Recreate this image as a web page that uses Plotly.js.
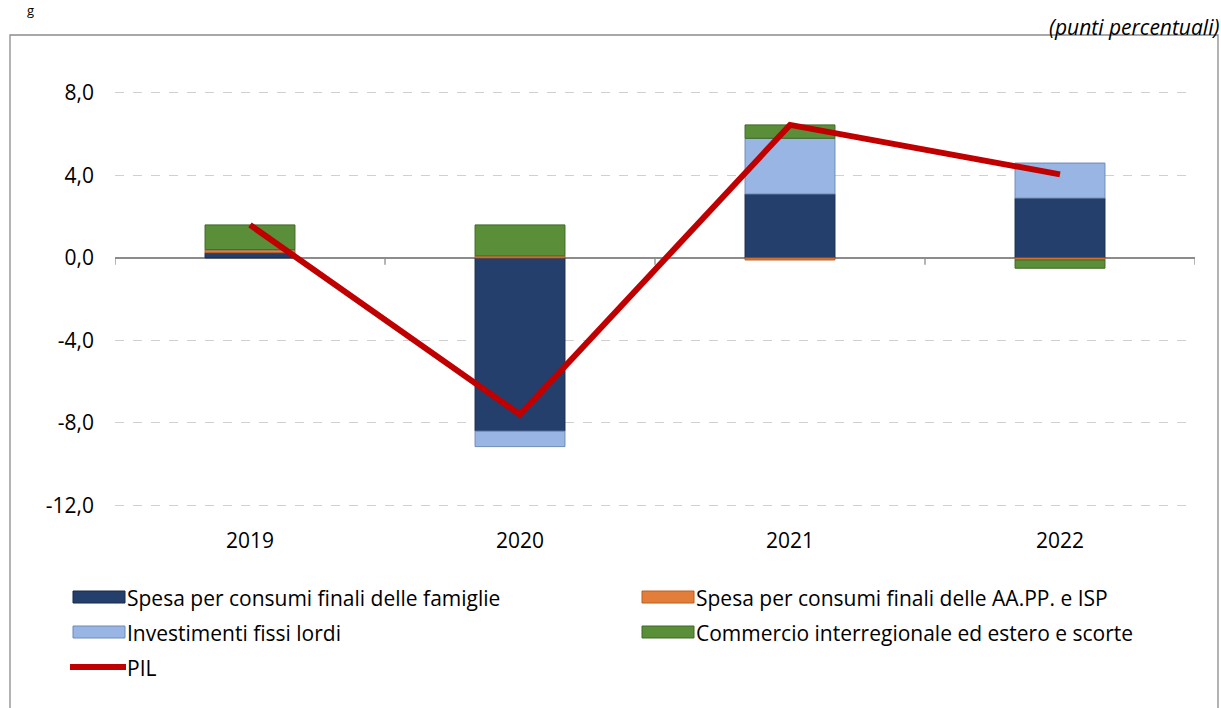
<!DOCTYPE html>
<html><head><meta charset="utf-8">
<script src="https://cdn.plot.ly/plotly-3.0.1.min.js"></script>
<style>html,body{margin:0;padding:0;background:#fff}#chart{width:1221px;height:708px}</style>
</head><body><div id="chart"></div>
<script>
const categories = ['2019', '2020', '2021', '2022'];
const seriesNames = ['Spesa per consumi finali delle famiglie',
  'Spesa per consumi finali delle AA.PP. e ISP',
  'Investimenti fissi lordi',
  'Commercio interregionale ed estero e scorte',
  'PIL'];
const famiglie = [0.25, -8.4, 3.1, 2.9];
const aapp = [0.15, 0.1, -0.1, -0.1];
const investimenti = [0.0, -0.75, 2.7, 1.7];
const commercio = [1.2, 1.5, 0.65, -0.4];
const pil = [1.6, -7.6, 6.45, 4.05];
const yTicks = [-12, -8, -4, 0, 4, 8];
const yTickText = yTicks.map(v => v.toFixed(1).replace('.', ','));

const W = 1221, H = 708;
const M = {l: 115, r: 26, t: 62, b: 182};
const pw = W - M.l - M.r, ph = H - M.t - M.b;
const px = x => (x - M.l) / pw;
const py = y => (H - M.b - y) / ph;

const fontFam = '"Open Sans", "Noto Sans", sans-serif';
const colors = ['#243F6B', '#E27D3A', '#98B5E3', '#5B8E38', '#C00000'];
const lineColors = ['#16294A', '#B85E22', '#6F8BB8', '#3F6826'];
const values = [famiglie, aapp, investimenti, commercio];

const traces = values.map((v, i) => ({type: 'bar', name: seriesNames[i], x: categories, y: v,
  width: 0.333, marker: {color: colors[i], line: {color: lineColors[i], width: 1}}, showlegend: false}));
traces.push({type: 'scatter', mode: 'lines', name: seriesNames[4], x: categories, y: pil,
  line: {color: colors[4], width: 6}, showlegend: false});

const shapes = [];
[-0.5, 0.5, 1.5, 2.5, 3.5].forEach(b => shapes.push({type: 'line', xref: 'x', yref: 'y',
  x0: b, x1: b, y0: 0, y1: -0.33, line: {color: '#8C8C8C', width: 1.3}}));
shapes.push({type: 'rect', xref: 'paper', yref: 'paper', x0: px(10), x1: px(1218),
  y0: py(760), y1: py(35), line: {color: '#8C8C8C', width: 1.3}, layer: 'below'});

// manual legend (two columns as in the original)
const legPos = [[73, 597], [642, 597], [73, 632], [642, 632], [70, 667]];
const annotations = [];
legPos.forEach((p, i) => {
  const [x, y] = p;
  if (i < 4) {
    shapes.push({type: 'rect', xref: 'paper', yref: 'paper', x0: px(x), x1: px(x + 52),
      y0: py(y + 6), y1: py(y - 6), fillcolor: colors[i], line: {color: lineColors[i], width: 1}});
  } else {
    shapes.push({type: 'line', xref: 'paper', yref: 'paper', x0: px(x), x1: px(x + 56),
      y0: py(y), y1: py(y), line: {color: colors[i], width: 6}});
  }
  annotations.push({xref: 'paper', yref: 'paper', x: px(x + (i < 4 ? 52 : 55)), y: py(y + 1), xanchor: 'left',
    yanchor: 'middle', text: seriesNames[i], showarrow: false,
    font: {family: fontFam, size: 21, color: '#000'}});
});
annotations.push({xref: 'paper', yref: 'paper', x: px(1221), y: py(27), xanchor: 'right', yanchor: 'middle',
  text: '<i>(punti percentuali)</i>', showarrow: false, font: {family: fontFam, size: 21, color: '#000'}});
annotations.push({xref: 'paper', yref: 'paper', x: px(26), y: py(0), xanchor: 'left', yanchor: 'top',
  text: 'g', showarrow: false, font: {family: fontFam, size: 13, color: '#000'}, borderpad: 0});

const layout = {
  width: W, height: H,
  margin: {l: M.l, r: M.r, t: M.t, b: M.b, autoexpand: false},
  paper_bgcolor: '#fff', plot_bgcolor: 'rgba(0,0,0,0)',
  barmode: 'relative', bargap: 0.6667,
  font: {family: fontFam, size: 21, color: '#000'},
  showlegend: false,
  xaxis: {type: 'category', range: [-0.5, 3.5], showgrid: false, showline: false,
    ticks: '', tickfont: {family: fontFam, size: 21}, fixedrange: true},
  yaxis: {range: [-13, 9.5], tickvals: yTicks, ticktext: yTickText, showline: false,
    gridcolor: '#D0D0D0', griddash: 'dash', gridwidth: 1,
    zeroline: true, zerolinecolor: '#8C8C8C', zerolinewidth: 1.5,
    ticks: '', ticklabelstandoff: 20, tickfont: {family: fontFam, size: 21}, fixedrange: true},
  shapes: shapes,
  annotations: annotations
};
Plotly.newPlot('chart', traces, layout, {displayModeBar: false, staticPlot: true});
</script></body></html>
